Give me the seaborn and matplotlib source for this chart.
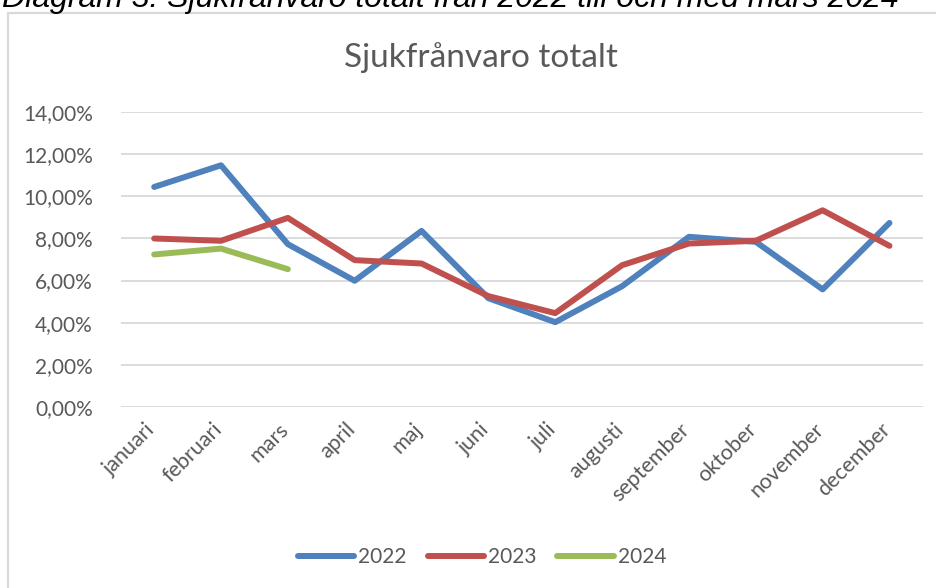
import pandas as pd
import seaborn as sns
import matplotlib.pyplot as plt
import matplotlib.transforms as mtransforms
from matplotlib.patches import Rectangle
from matplotlib.ticker import FuncFormatter

# Data (sick leave share per month, percent)
months = ['januari', 'februari', 'mars', 'april', 'maj', 'juni',
          'juli', 'augusti', 'september', 'oktober', 'november', 'december']
y2022 = [10.45, 11.48, 7.73, 5.99, 8.36, 5.16, 4.02, 5.73, 8.08, 7.84, 5.58, 8.74]
y2023 = [8.00, 7.89, 8.98, 6.97, 6.81, 5.26, 4.45, 6.73, 7.76, 7.89, 9.34, 7.65]
y2024 = [7.24, 7.52, 6.54]
years = ['2022', '2023', '2024']
colors = ['#4F81BD', '#C0504D', '#9BBB59']

caption = 'Diagram 3. Sjukfrånvaro totalt från 2022 till och med mars 2024'
title = 'Sjukfrånvaro totalt'

# Long-form table
rows = []
for year, vals in zip(years, [y2022, y2023, y2024]):
    for m, v in zip(months, vals):
        rows.append({'month': m, 'value': v, 'year': year})
df = pd.DataFrame(rows)

sns.set_theme(style='white')
plt.rcParams['font.family'] = ['Lato', 'DejaVu Sans']
text_gray = '#595959'
lw = 4.3

fig = plt.figure(figsize=(9.36, 5.88), dpi=100)
ax = fig.add_axes([0.129, 0.3083, 0.857, 0.5007])

sns.lineplot(data=df, x='month', y='value', hue='year', palette=colors,
             sort=False, linewidth=lw, ax=ax, legend=False,
             solid_capstyle='round', solid_joinstyle='round')

ax.set_xlim(-0.5, 11.5)
ax.set_ylim(0, 14)
ax.set_yticks(range(0, 15, 2))
ax.yaxis.set_major_formatter(FuncFormatter(lambda v, p: f'{v:.2f}%'.replace('.', ',')))
ax.grid(axis='y', color='#d9d9d9', linewidth=1.3)
ax.set_axisbelow(True)
ax.set_xlabel('')
ax.set_ylabel('')
for s in ax.spines.values():
    s.set_visible(False)
ax.tick_params(axis='y', length=0, pad=20, labelsize=15, labelcolor=text_gray)
ax.tick_params(axis='x', length=0, pad=9, labelsize=15.5, labelcolor=text_gray)

offset = mtransforms.ScaledTranslation(5 / 100, 0, fig.dpi_scale_trans)
for lbl in ax.get_xticklabels():
    lbl.set_rotation(45)
    lbl.set_ha('right')
    lbl.set_va('top')
    lbl.set_transform(lbl.get_transform() + offset)

# Chart title
fig.text(0.514, 1 - 58 / 588, title, ha='center', va='center',
         fontsize=24, color=text_gray)

# Legend
handles = [plt.Line2D([], [], color=c, linewidth=lw, solid_capstyle='round') for c in colors]
fig.legend(handles, years, loc='center', bbox_to_anchor=(0.515, 1 - 557 / 588),
           ncol=3, frameon=False, fontsize=15, labelcolor=text_gray,
           handlelength=2.7, handletextpad=0.2, columnspacing=1.0)

# Chart frame (runs off the right and bottom edges)
fig.patches.append(Rectangle((8 / 936, -0.1), 1.1, 1.1 - 13 / 588,
                             transform=fig.transFigure, fill=False,
                             edgecolor='#d9d9d9', linewidth=1.6))

# Caption above the chart, cut off at the top as in the source
fig.text(2 / 936, 1 - 6.5 / 588, caption, ha='left', va='baseline',
         fontsize=23, style='italic', color='black',
         family=['Liberation Sans', 'DejaVu Sans'])

fig.savefig('out.png', dpi=100)
